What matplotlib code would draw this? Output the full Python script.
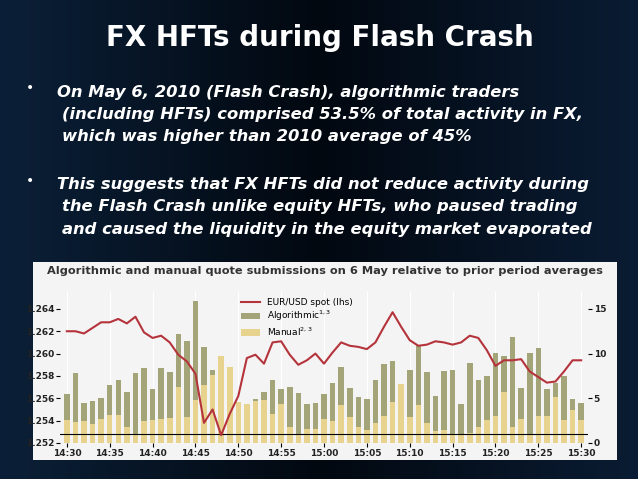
import matplotlib
matplotlib.use("Agg")
import matplotlib.pyplot as plt
import numpy as np
from matplotlib.colors import LinearSegmentedColormap

minutes = np.arange(61)  # 14:30 .. 15:30
tick_labels = ["14:30","14:35","14:40","14:45","14:50","14:55","15:00","15:05","15:10","15:15","15:20","15:25","15:30"]
algorithmic = [5.5,7.8,4.5,4.7,5.0,6.5,7.1,5.7,7.8,8.4,6.0,8.4,7.9,12.2,11.4,15.9,10.7,8.2,4.1,4.1,4.6,3.4,4.9,5.7,7.1,6.0,6.3,5.6,4.4,4.5,5.5,
               6.7,8.5,6.1,5.1,4.9,7.0,8.8,9.2,5.4,8.2,11.0,7.9,5.3,8.1,8.2,4.4,9.0,7.0,7.5,10.1,9.7,11.9,6.1,10.1,10.6,6.0,6.7,7.5,4.9,4.5]
manual = [2.6,2.3,2.5,2.1,2.7,3.1,3.1,1.8,1.0,2.5,2.6,2.7,2.8,6.3,2.9,4.8,6.5,7.6,9.7,8.5,4.6,4.4,4.7,4.8,3.2,4.4,1.8,0.9,1.6,1.6,2.7,
          2.5,4.2,2.9,1.8,1.5,2.2,3.0,4.6,6.6,2.9,4.3,2.2,1.3,1.5,1.0,1.0,1.1,1.8,2.6,3.0,5.7,1.8,2.7,1.0,3.0,3.0,5.2,2.6,3.7,2.6]
eurusd = [1.2620,1.2620,1.2618,1.2623,1.2628,1.2628,1.2631,1.2627,1.2633,1.2619,1.2614,1.2616,1.2610,1.2599,1.2593,1.2582,
          1.2538,1.2550,1.2527,1.2546,1.2562,1.2596,1.2599,1.2591,1.2610,1.2611,1.2599,1.2590,1.2594,1.2600,1.2591,
          1.2601,1.2610,1.2607,1.2606,1.2604,1.2610,1.2624,1.2637,1.2624,1.2612,1.2607,1.2608,1.2611,1.2610,1.2608,
          1.2610,1.2616,1.2614,1.2603,1.2589,1.2594,1.2594,1.2595,1.2584,1.2579,1.2574,1.2575,1.2584,1.2594,1.2594]

title = "FX HFTs during Flash Crash"
bullet1 = ["On May 6, 2010 (Flash Crash), algorithmic traders",
           "(including HFTs) comprised 53.5% of total activity in FX,",
           "which was higher than 2010 average of 45%"]
bullet2 = ["This suggests that FX HFTs did not reduce activity during",
           "the Flash Crash unlike equity HFTs, who paused trading",
           "and caused the liquidity in the equity market evaporated"]

W, H = 638, 479
fig = plt.figure(figsize=(W/100, H/100), dpi=100)
bg = fig.add_axes([0, 0, 1, 1], zorder=-5)
grad = np.vstack([np.linspace(0, 1, 256)] * 2)
cmap = LinearSegmentedColormap.from_list("bgc", ["#0b2038", "#020810", "#0a1c33"])
bg.imshow(grad, aspect="auto", cmap=cmap, extent=[0, W, 0, H])
bg.set_xlim(0, W); bg.set_ylim(H, 0); bg.axis("off")
bg.add_patch(plt.Rectangle((33, 262), 584, 198, facecolor="#f4f4f4", edgecolor="none"))

fig.text(320/W, 1-38/H, title, ha="center", va="center", color="white", fontsize=20, fontweight="bold")
for lines, y0 in ((bullet1, 92), (bullet2, 185)):
    bg.text(30, y0 - 4, "•", color="white", fontsize=10, va="center", ha="center")
    for i, ln in enumerate(lines):
        bg.text(57 if i == 0 else 62, y0 + 22*i, ln, color="white", fontsize=11.8, fontweight="bold",
                style="italic", va="center")

bg.text(325, 271, "Algorithmic and manual quote submissions on 6 May relative to prior period averages",
        ha="center", va="center", fontsize=8.2, fontweight="bold", color="#333333")

ax = fig.add_axes([60/W, 1-443/H, 528/W, 152/H])
ax2 = ax.twinx()
ax.set_zorder(ax2.get_zorder() + 1)
ax.patch.set_visible(False)
ax2.set_facecolor("#e4e4e4")

ax2.bar(minutes, algorithmic, width=0.65, color="#a3a578", zorder=2, label="Algorithmic$^{1,3}$")
ax2.bar(minutes, manual, width=0.65, color="#e8d38e", zorder=3, label="Manual$^{2,3}$")
ax2.axhline(1, color="black", lw=0.8, zorder=4)
ax2.set_ylim(0, 17)
ax2.set_yticks([0, 5, 10, 15])
for v in range(0, 61, 5):
    ax2.axvline(v, color="white", lw=0.8, zorder=1)

ax.plot(minutes, eurusd, color="#b5343c", lw=1.5, label="EUR/USD spot (lhs)")
ax.set_ylim(1.252, 1.252 + 17*0.0008)
ax.set_yticks([1.252, 1.254, 1.256, 1.258, 1.260, 1.262, 1.264])
ax.set_yticklabels(["1.252", "1.254", "1.256", "1.258", "1.260", "1.262", "1.264"])
ax.set_xlim(-0.8, 60.8)
ax.set_xticks(np.arange(0, 61, 5))
ax.set_xticklabels(tick_labels)
for a in (ax, ax2):
    a.tick_params(labelsize=6.5, length=3, pad=1)
    for s in a.spines.values():
        s.set_visible(False)
for t in ax.get_xticklabels() + ax.get_yticklabels() + ax2.get_yticklabels():
    t.set_fontweight("bold"); t.set_color("#222222")

h1, l1 = ax.get_legend_handles_labels()
h2, l2 = ax2.get_legend_handles_labels()
ax.legend(h1 + h2, l1 + l2, loc="upper left", bbox_to_anchor=(0.33, 1.0), frameon=False,
          fontsize=6.5, handlelength=2, labelspacing=0.2, borderpad=0.3)

fig.savefig("out.png", dpi=100)
